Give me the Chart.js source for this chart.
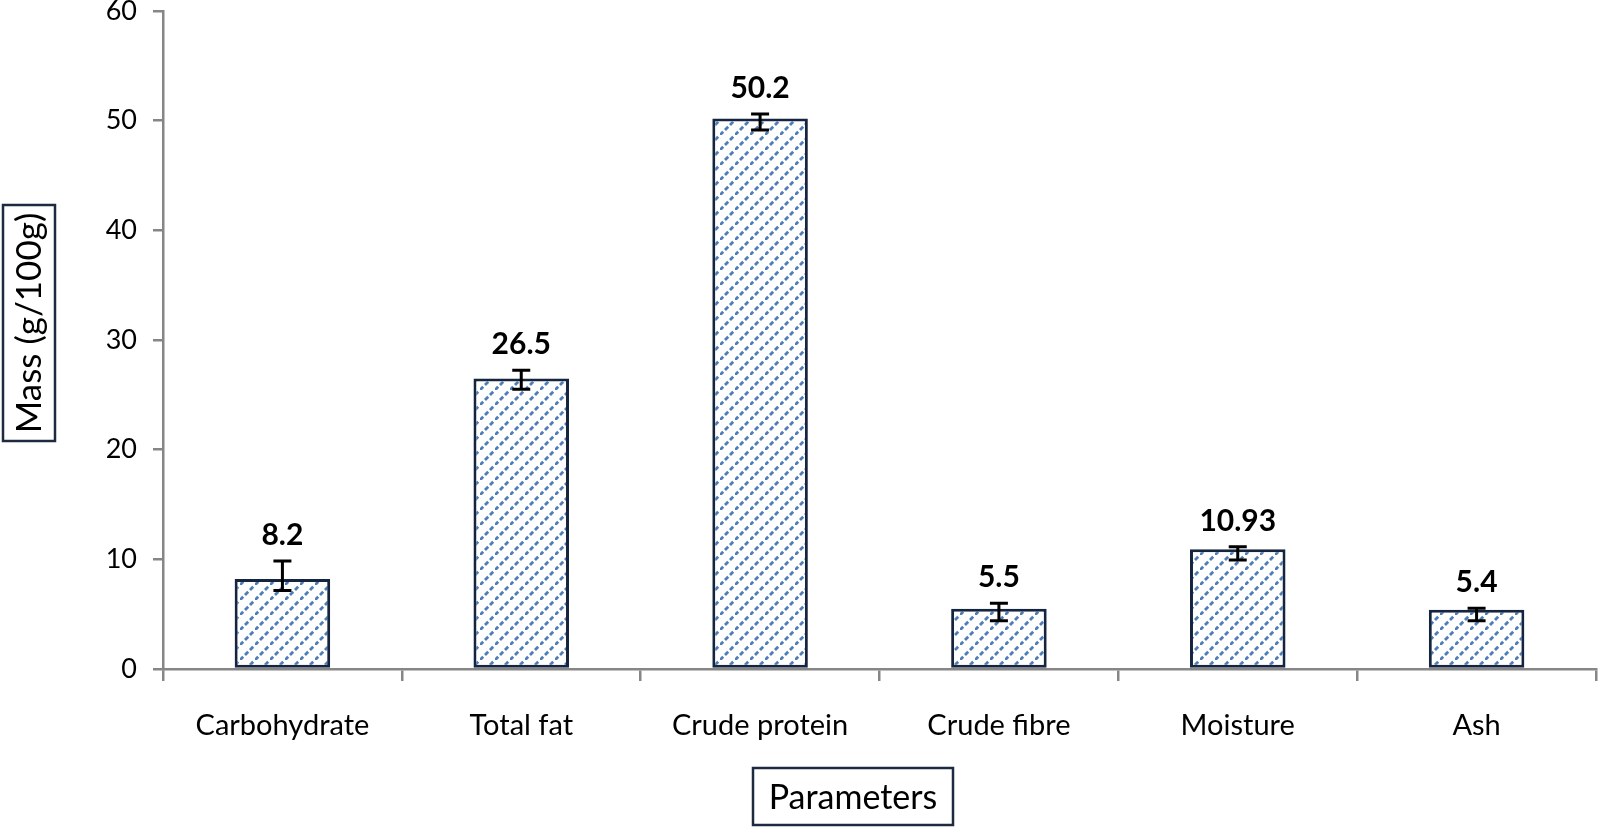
<!DOCTYPE html>
<html>
<head>
<meta charset="utf-8">
<script src="https://cdn.jsdelivr.net/npm/chart.js@4"></script>
<style>
  body { margin: 0; background: #fff; }
  #wrap { width: 1600px; height: 827px; position: relative; }
</style>
</head>
<body>
<div id="wrap"><canvas id="massChart"></canvas></div>
<script>
const categories = ["Carbohydrate", "Total fat", "Crude protein", "Crude fibre", "Moisture", "Ash"];
const massValues = [8.2, 26.5, 50.2, 5.5, 10.93, 5.4];
const valueLabels = ["8.2", "26.5", "50.2", "5.5", "10.93", "5.4"];
const errHigh = [9.85, 27.25, 50.6, 6.0, 11.15, 5.55];
const errLow = [7.15, 25.5, 49.15, 4.4, 9.95, 4.4];
const yTicks = [0, 10, 20, 30, 40, 50, 60];

const FONT = "Lato";
const AXIS_GRAY = "#868686";

// dashed upward-diagonal hatch like the Excel fill
function makeHatch() {
    const c = document.createElement("canvas");
    c.width = 15; c.height = 15;
    const g = c.getContext("2d");
    g.fillStyle = "#ffffff";
    g.fillRect(0, 0, 15, 15);
    g.strokeStyle = "#4f7db8";
    g.lineWidth = 2.8;
    g.lineCap = "butt";
    g.beginPath();
    for (let k = -1; k < 4; k++) {
        const x0 = k * 5;
        g.moveTo(x0, 15 - x0);
        g.lineTo(x0 + 3.2, 15 - x0 - 3.2);
    }
    g.stroke();
    return g.createPattern(c, "repeat");
}
const hatch = makeHatch();

// error bars + value labels
const barExtras = {
    id: "barExtras",
    afterDatasetsDraw(chart) {
        const ctx = chart.ctx;
        const y = chart.scales.y;
        const bars = chart.getDatasetMeta(0).data;
        ctx.save();
        bars.forEach((bar, i) => {
            const hi = y.getPixelForValue(errHigh[i]);
            const lo = y.getPixelForValue(errLow[i]);
            ctx.strokeStyle = "#000";
            ctx.lineWidth = 3;
            ctx.beginPath();
            ctx.moveTo(bar.x, hi); ctx.lineTo(bar.x, lo);
            ctx.moveTo(bar.x - 9, hi); ctx.lineTo(bar.x + 9, hi);
            ctx.moveTo(bar.x - 9, lo); ctx.lineTo(bar.x + 9, lo);
            ctx.stroke();

            ctx.fillStyle = "#000";
            ctx.font = "bold 30px " + FONT;
            ctx.textAlign = "center";
            ctx.textBaseline = "alphabetic";
            ctx.fillText(valueLabels[i], bar.x, hi - 16);
        });
        ctx.restore();
    }
};

// boxed axis titles
const boxedTitles = {
    id: "boxedTitles",
    afterDraw(chart) {
        const ctx = chart.ctx;
        ctx.save();
        ctx.strokeStyle = "#1d2a3f";
        ctx.lineWidth = 2.5;
        ctx.fillStyle = "#000";
        ctx.textAlign = "center";
        ctx.textBaseline = "middle";

        ctx.font = "35px " + FONT;
        ctx.strokeRect(3, 205, 52, 236);
        ctx.translate(30, 323);
        ctx.rotate(-Math.PI / 2);
        ctx.fillText("Mass (g/100g)", 0, 0);
        ctx.setTransform(1, 0, 0, 1, 0, 0);

        ctx.font = "34px " + FONT;
        ctx.strokeRect(753, 768, 200, 57);
        ctx.fillText("Parameters", 853, 798);
        ctx.restore();
    }
};

new Chart(document.getElementById("massChart"), {
    type: "bar",
    data: {
        labels: categories,
        datasets: [{
            label: "Mass",
            data: massValues,
            backgroundColor: hatch,
            borderColor: "#15253f",
            borderWidth: 3,
            borderSkipped: false,
            barPercentage: 0.4,
            categoryPercentage: 1
        }]
    },
    options: {
        responsive: true,
        maintainAspectRatio: false,
        animation: false,
        layout: { padding: { top: 11, right: 4, left: 0, bottom: 0 } },
        plugins: {
            legend: { display: false },
            tooltip: { enabled: false }
        },
        scales: {
            y: {
                min: 0,
                max: 60,
                afterBuildTicks: s => { s.ticks = yTicks.map(v => ({ value: v })); },
                afterFit: s => { s.width = 163; s.paddingTop = 0; s.paddingBottom = 0; },
                ticks: {
                    color: "#000",
                    font: { family: FONT, size: 27 },
                    padding: 16
                },
                grid: {
                    drawOnChartArea: false,
                    color: AXIS_GRAY,
                    lineWidth: 2.5,
                    tickLength: 10
                },
                border: { display: true, color: AXIS_GRAY, width: 2.5 }
            },
            x: {
                afterFit: s => { s.height = 158; s.paddingLeft = 0; s.paddingRight = 0; },
                ticks: {
                    color: "#000",
                    font: { family: FONT, size: 29 },
                    padding: 27,
                    maxRotation: 0
                },
                grid: {
                    drawOnChartArea: false,
                    offset: true,
                    color: AXIS_GRAY,
                    lineWidth: 2.5,
                    tickLength: 12
                },
                border: { display: true, color: AXIS_GRAY, width: 2.5 }
            }
        }
    },
    plugins: [barExtras, boxedTitles]
});
</script>
</body>
</html>
